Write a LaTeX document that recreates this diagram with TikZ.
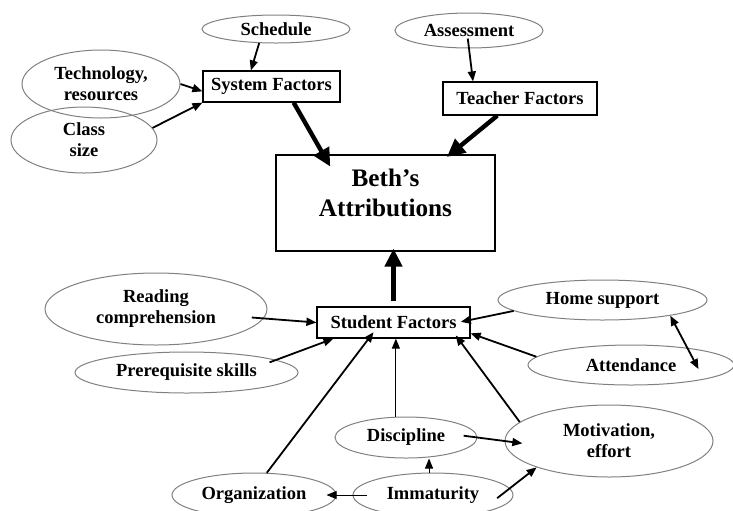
\documentclass[tikz,border=0pt]{standalone}
\usepackage{fontspec}
\setmainfont{Liberation Serif}
\usepackage{tikz}
\usetikzlibrary{arrows.meta, shapes.geometric}

\begin{document}
\begin{tikzpicture}[
  x=0.5pt, y=-0.5pt,
  oval/.style={ellipse, draw=gray, line width=0.5pt, inner sep=0pt, align=center, font=\fontsize{9.25}{10.5}\selectfont\bfseries},
  block/.style={rectangle, draw, line width=0.6pt, inner sep=0pt, align=center, font=\fontsize{9.25}{10.5}\selectfont\bfseries},
  link/.style={->, line width=0.9pt},
  faint/.style={->, line width=0.5pt},
  fat/.style={-{Triangle[length=9pt,width=8.5pt]}, line width=2.2pt},
  >={Triangle[length=5pt,width=4pt]}
]
\clip (0,0) rectangle (733,510);

% boxes
\node[block, minimum width=68.5pt, minimum height=15.5pt] (sys) at (271.5,86.5) {System Factors};
\node[block, minimum width=77pt, minimum height=16.5pt] (teach) at (520,98.5) {Teacher Factors};
\node[block, minimum width=109.5pt, minimum height=48pt, text depth=10pt, font=\fontsize{12.6}{15}\selectfont\bfseries] (beth) at (385.5,203) {Beth’s\\Attributions};
\node[block, minimum width=76.5pt, minimum height=15.5pt] (stud) at (393.5,322.5) {Student Factors};

% ovals
\node[oval, minimum width=74pt, minimum height=14pt] (sched) at (276,29) {Schedule};
\node[oval, minimum width=74pt, minimum height=17.5pt] (assess) at (469,30.5) {Assessment};
\node[oval, minimum width=79pt, minimum height=34pt] (tech) at (101,84) {Technology,\\resources};
\node[oval, minimum width=73pt, minimum height=33pt] (cls) at (84,140) {Class\\size};
\node[oval, minimum width=111pt, minimum height=36pt] (read) at (156,309) {Reading\\comprehension};
\node[oval, minimum width=111.5pt, minimum height=20.5pt] (prereq) at (186.5,372.5) {Prerequisite skills};
\node[oval, minimum width=104.5pt, minimum height=20pt] (home) at (602.5,300) {Home support};
\node[oval, minimum width=103pt, minimum height=20pt] (attend) at (631,365) {Attendance};
\node[oval, minimum width=104pt, minimum height=36pt] (motiv) at (609,441) {Motivation,\\effort};
\node[oval, minimum width=71pt, minimum height=20.5pt] (disc) at (406,437.5) {Discipline};
\node[oval, minimum width=82pt, minimum height=22pt] (org) at (254,495) {Organization};
\node[oval, minimum width=80pt, minimum height=22pt] (immat) at (433,495) {Immaturity};

% into the boxes
\draw[link] (sched.220) -- (sys.142);
\draw[link] (tech.east) -- (sys.184);
\draw[link] (cls.10) -- (sys.south west);
\draw[link, shorten <=-5pt] (assess.south) -- (teach.160);
\draw[fat, shorten >=-7pt] (sys.-36) -- (beth.142);
\draw[fat, shorten >=-2pt] (teach.217) -- (beth.37);
\draw[fat, shorten <=2.5pt, shorten >=-1.5pt] (stud.north) -- (stud.north |- beth.south);

\draw[link, shorten <=-6pt] (read.-5) -- (stud.west);
\draw[link, shorten <=-3.5pt] (prereq.8) -- (stud.195);
\draw[link, shorten >=-4pt] (org.60) -- (stud.213);
\draw[link, shorten >=-5pt] (home.187) -- (stud.2);
\draw[link] (attend.175) -- (stud.-8.5);
\draw[link, shorten >=-2pt] (motiv.168) -- (stud.-14);
\draw[faint] (disc.116) -- (disc.116 |- stud.south);

% among the student ovals
\draw[link, <->, shorten >=-12pt] (home.-13) -- (attend.17);
\draw[link, shorten <=-7pt, shorten >=-9pt] (disc.east) -- (motiv.west);
\draw[faint] (immat.100) -- (immat.100 |- disc.south);
\draw[faint, shorten <=-7pt, shorten >=-5pt] (immat.west) -- (org.east);
\draw[link, shorten <=-8pt] (immat.5) -- (motiv.200);
\end{tikzpicture}
\end{document}
